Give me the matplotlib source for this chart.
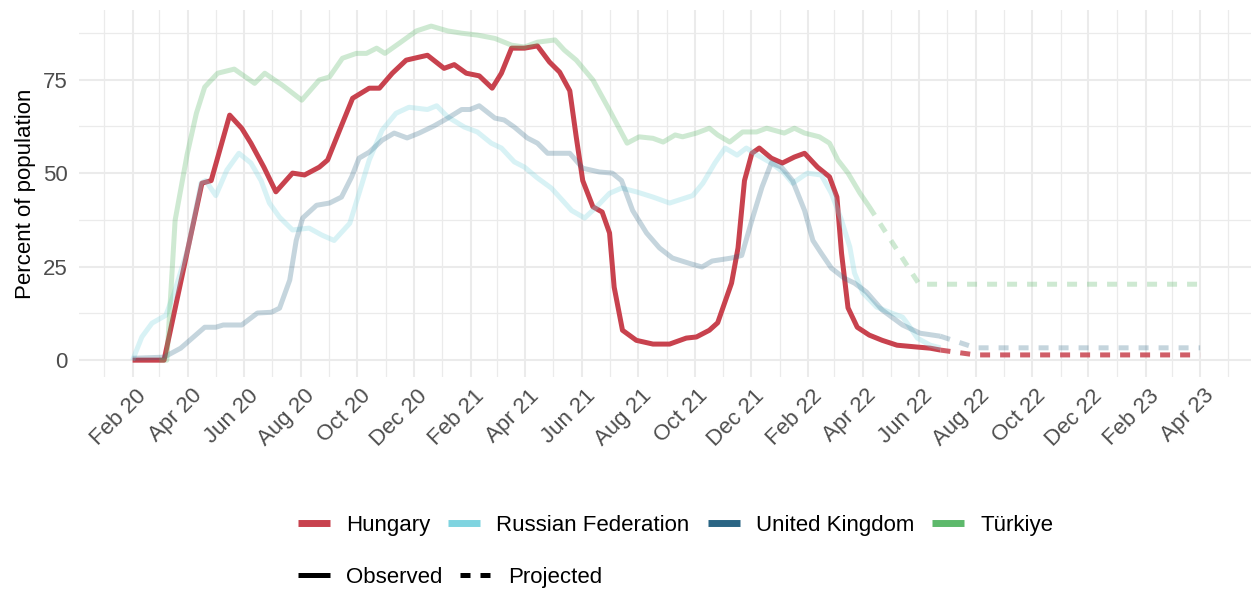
import matplotlib
matplotlib.use("Agg")
import matplotlib.pyplot as plt
import matplotlib.dates as mdates
from matplotlib.lines import Line2D
from matplotlib.transforms import ScaledTranslation
from matplotlib.ticker import FixedLocator
import pandas as pd

plt.rcParams['font.family'] = ['Liberation Sans', 'DejaVu Sans']

# ---------------- data ----------------
countries = ["Hungary", "Russian Federation", "United Kingdom", "Türkiye"]
colors = ["#C8424E", "#7FD4E0", "#2A6584", "#5DB96B"]

hun_dates = ["2020-02-01","2020-03-06","2020-04-16","2020-04-26","2020-05-16","2020-05-29","2020-06-08","2020-06-22",
             "2020-07-05","2020-07-23","2020-08-05","2020-08-21","2020-08-30","2020-09-12","2020-09-26","2020-10-14",
             "2020-10-25","2020-11-08","2020-11-23","2020-12-07","2020-12-16","2021-01-03","2021-01-14","2021-01-27",
             "2021-02-10","2021-02-24","2021-03-06","2021-03-17","2021-03-31","2021-04-14","2021-04-27","2021-05-08",
             "2021-05-19","2021-05-26","2021-06-02","2021-06-13","2021-06-23","2021-07-01","2021-07-06","2021-07-15",
             "2021-07-30","2021-08-17","2021-09-04","2021-09-22","2021-10-03","2021-10-17","2021-10-26","2021-11-10",
             "2021-11-17","2021-11-24","2021-12-02","2021-12-10","2021-12-23","2022-01-04","2022-01-17","2022-01-28",
             "2022-02-11","2022-02-24","2022-03-04","2022-03-09","2022-03-16","2022-03-26","2022-04-08","2022-04-22",
             "2022-05-08","2022-05-30","2022-06-13","2022-06-24"]
hun_values = [0, 0, 47.3, 48, 65.5, 62, 58, 51.6, 45, 50, 49.5, 51.6, 53.5, 61.5, 70, 72.7, 72.7, 76.7, 80.2, 81,
              81.5, 78, 79, 76.7, 76, 72.7, 76.7, 83.4, 83.4, 84, 79.7, 77, 72, 59.6, 48, 41, 39.6, 34, 19.5, 8,
              5.3, 4.3, 4.3, 5.9, 6.2, 8, 10, 20.6, 30, 48, 55.3, 56.7, 54, 52.7, 54.3, 55.3, 51.6, 49, 43.6, 28.6,
              14, 8.8, 6.7, 5.3, 4, 3.5, 3.2, 2.7]
hun_proj_dates = ["2022-06-24", "2022-08-01", "2023-04-01"]
hun_proj_values = [2.7, 1.4, 1.4]

rus_dates = ["2020-02-01","2020-02-11","2020-02-22","2020-03-08","2020-03-17","2020-04-01","2020-04-15","2020-04-20",
             "2020-05-01","2020-05-13","2020-05-26","2020-06-08","2020-06-19","2020-06-28","2020-07-09","2020-07-23",
             "2020-08-10","2020-08-24","2020-09-06","2020-09-23","2020-10-03","2020-10-14","2020-10-28","2020-11-12",
             "2020-11-26","2020-12-16","2020-12-26","2021-01-07","2021-01-25","2021-02-08","2021-02-23","2021-03-06",
             "2021-03-20","2021-03-31","2021-04-14","2021-04-29","2021-05-13","2021-05-21","2021-06-04","2021-06-17",
             "2021-07-01","2021-07-14","2021-07-30","2021-08-17","2021-09-04","2021-09-14","2021-09-29","2021-10-10",
             "2021-10-23","2021-11-03","2021-11-16","2021-11-26","2021-12-08","2021-12-23","2022-01-06","2022-01-15",
             "2022-01-31","2022-02-15","2022-02-26","2022-03-09","2022-03-18","2022-03-23","2022-04-01","2022-04-16",
             "2022-05-03","2022-05-14","2022-05-19","2022-05-30","2022-06-13","2022-06-24"]
rus_values = [0, 6.2, 9.9, 12, 18, 30, 47.3, 48, 44, 50.8, 55.3, 52.7, 48, 42, 38.2, 34.8, 35.3, 33.4, 32, 36.6,
              44.6, 53.5, 61.5, 66, 67.6, 67, 68, 65, 62.3, 61, 58, 56.7, 53, 51.6, 48.7, 46, 42.2, 40, 38, 41,
              44.6, 46, 45, 43.6, 42, 42.8, 44, 47.3, 52.7, 56.7, 54.8, 56.7, 54.8, 52.7, 50, 47.3, 50, 49.5, 44.6,
              37.4, 30.2, 23.3, 18, 14.2, 12.5, 11.5, 9.9, 5.9, 4, 3.3]

gbr_dates = ["2020-02-01","2020-03-06","2020-03-24","2020-04-19","2020-05-01","2020-05-09","2020-05-29","2020-06-15",
             "2020-06-30","2020-07-09","2020-07-20","2020-07-27","2020-08-03","2020-08-18","2020-09-01","2020-09-14",
             "2020-09-25","2020-10-03","2020-10-14","2020-10-28","2020-11-10","2020-11-24","2020-12-07","2020-12-23",
             "2021-01-07","2021-01-22","2021-01-31","2021-02-10","2021-02-27","2021-03-09","2021-03-20","2021-04-03",
             "2021-04-14","2021-04-25","2021-05-13","2021-05-19","2021-06-02","2021-06-20","2021-07-04","2021-07-14",
             "2021-07-26","2021-08-10","2021-08-24","2021-09-07","2021-09-25","2021-10-09","2021-10-20","2021-11-10",
             "2021-11-21","2021-12-02","2021-12-13","2021-12-23","2022-01-03","2022-01-15","2022-01-28","2022-02-06",
             "2022-02-15","2022-02-26","2022-03-12","2022-03-23","2022-04-05","2022-04-22","2022-05-14","2022-06-02",
             "2022-06-24"]
gbr_values = [0.5, 0.8, 3.2, 8.8, 8.8, 9.4, 9.4, 12.6, 12.8, 13.9, 21.4, 32, 38, 41.4, 42, 43.6, 49, 54, 55.6, 58.8,
              60.7, 59.4, 60.7, 62.6, 64.7, 67, 67, 68, 64.7, 64.2, 62.3, 59.4, 58, 55.3, 55.3, 55.3, 51.3, 50.3, 50,
              48, 40, 34, 30, 27.3, 25.9, 24.9, 26.5, 27.3, 28, 37.4, 46.3, 52.7, 51.6, 48, 40, 32, 28.6, 24.6, 21.9,
              20.6, 18.2, 13.4, 9.4, 7.2, 6.4]
gbr_proj_dates = ["2022-06-24", "2022-08-01", "2023-04-01"]
gbr_proj_values = [6.4, 3.3, 3.3]

tur_dates = ["2020-03-01","2020-03-09","2020-03-18","2020-03-31","2020-04-10","2020-04-19","2020-05-03","2020-05-21",
             "2020-06-12","2020-06-23","2020-07-03","2020-07-12","2020-08-02","2020-08-21","2020-09-01","2020-09-15",
             "2020-09-30","2020-10-11","2020-10-22","2020-10-31","2020-11-16","2020-12-04","2020-12-20","2021-01-07",
             "2021-01-22","2021-02-08","2021-02-27","2021-03-17","2021-03-31","2021-04-14","2021-05-03","2021-05-13",
             "2021-05-26","2021-06-13","2021-07-01","2021-07-20","2021-08-02","2021-08-17","2021-08-28","2021-09-10",
             "2021-09-18","2021-10-03","2021-10-17","2021-10-26","2021-11-08","2021-11-22","2021-12-07","2021-12-18",
             "2022-01-06","2022-01-17","2022-01-28","2022-02-13","2022-02-24","2022-03-05","2022-03-16","2022-03-29",
             "2022-04-08"]
tur_values = [0, 0, 37.4, 55, 66, 73, 76.7, 77.8, 74, 76.7, 75, 73.5, 69.5, 74.9, 75.7, 80.7, 82, 82, 83.4, 82,
              84.8, 88, 89.3, 88, 87.4, 86.9, 86, 84.2, 83.7, 85, 85.6, 82.9, 80.2, 74.9, 66.8, 58, 59.7, 59.3, 58.3,
              60.2, 59.7, 60.7, 62, 60.2, 58.3, 61, 61, 62, 60.7, 62, 60.7, 59.7, 58, 53.5, 50, 44.6, 41]
tur_proj_dates = ["2022-04-08", "2022-06-01", "2023-04-01"]
tur_proj_values = [41, 20.3, 20.3]

y_ticks = [0, 25, 50, 75]

# ---------------- figure ----------------
W, H = 1251, 595
fig = plt.figure(figsize=(W / 100, H / 100), dpi=100)
ax = fig.add_axes([79 / W, 1 - 377 / H, 1 - 79 / W, (377 - 10) / H])

LW = 3.6
observed = [(hun_dates, hun_values, 0), (rus_dates, rus_values, 1), (gbr_dates, gbr_values, 2), (tur_dates, tur_values, 3)]
projected = [(hun_proj_dates, hun_proj_values, 0), (gbr_proj_dates, gbr_proj_values, 2), (tur_proj_dates, tur_proj_values, 3)]
alphas_obs = [1.0, 0.3, 0.27, 0.3]
alphas_proj = [0.85, 0.3, 0.27, 0.3]

for d, v, i in observed:
    ax.plot(pd.to_datetime(d), v, color=colors[i], alpha=alphas_obs[i], lw=LW,
            solid_capstyle='butt', solid_joinstyle='round', zorder=3 + i)
for d, v, i in projected:
    ax.plot(pd.to_datetime(d), v, color=colors[i], alpha=alphas_proj[i], lw=LW,
            dashes=(2, 2), dash_capstyle='butt', zorder=3 + i)

ax.set_xlim(pd.Timestamp("2019-12-05"), pd.Timestamp("2023-05-26"))
ax.set_ylim(-4.5, 93.6)

ax.xaxis.set_major_locator(mdates.MonthLocator(bymonth=[2, 4, 6, 8, 10, 12]))
ax.xaxis.set_minor_locator(mdates.MonthLocator(bymonth=[1, 3, 5, 7, 9, 11]))
ax.xaxis.set_major_formatter(mdates.DateFormatter("%b %y"))
ax.yaxis.set_major_locator(FixedLocator(y_ticks))
ax.yaxis.set_minor_locator(FixedLocator([12.5, 37.5, 62.5, 87.5]))

ax.set_axisbelow(True)
ax.grid(which='major', color='#EBEBEB', lw=1.5)
ax.grid(which='minor', color='#EBEBEB', lw=0.9)
for s in ax.spines.values():
    s.set_visible(False)

ax.tick_params(which='both', length=0)
ax.tick_params(axis='y', labelsize=16, labelcolor='#4D4D4D', pad=8)
ax.tick_params(axis='x', labelsize=16, labelcolor='#4D4D4D', pad=6)
offset = ScaledTranslation(3 / 100, 0, fig.dpi_scale_trans)
for lab in ax.get_xticklabels():
    lab.set_rotation(45)
    lab.set_ha('right')
    lab.set_va('top')
    lab.set_rotation_mode('anchor')
    lab.set_transform(lab.get_transform() + offset)

ax.set_ylabel("Percent of population", fontsize=16, color='black', labelpad=5)

# ---------------- legends ----------------
h1 = [Line2D([], [], color=c, lw=5, solid_capstyle='butt') for c in colors]
leg1 = fig.legend(h1, countries, loc='center left', bbox_to_anchor=(298 / W, 1 - 525.5 / H), ncol=4,
                  frameon=False, fontsize=16, handlelength=1.45, handletextpad=0.72, columnspacing=0.8,
                  borderpad=0, borderaxespad=0)
h2 = [Line2D([], [], color='black', lw=3.6, solid_capstyle='butt'),
      Line2D([], [], color='black', lw=3.6, dashes=(2, 2), dash_capstyle='butt')]
leg2 = fig.legend(h2, ["Observed", "Projected"], loc='center left', bbox_to_anchor=(298 / W, 1 - 577.5 / H),
                  ncol=2, frameon=False, fontsize=16, handlelength=1.45, handletextpad=0.72, columnspacing=0.8,
                  borderpad=0, borderaxespad=0)

fig.savefig("out.png", dpi=100)
